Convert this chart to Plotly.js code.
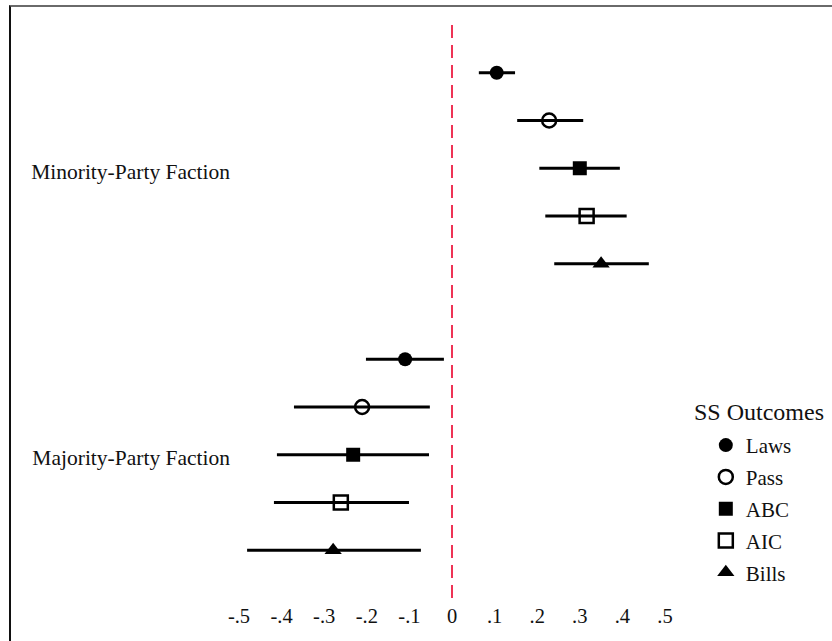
<!DOCTYPE html>
<html>
<head>
<meta charset="utf-8">
<script src="https://cdn.plot.ly/plotly-3.0.1.min.js"></script>
<style>
  html, body { margin: 0; padding: 0; background: #fff; }
  #wrap { position: relative; width: 832px; height: 641px; overflow: hidden; }
  #chart { width: 832px; height: 641px; }
  #frame { position: absolute; left: 9px; top: 5px; right: -10px; bottom: -10px;
           border-top: 2px solid #6a6a6a; border-left: 2px solid #111; pointer-events: none; }
</style>
</head>
<body>
<div id="wrap">
  <div id="chart"></div>
  <div id="frame"></div>
</div>
<script>
// ---- data ----
const outcomes = ["Laws", "Pass", "ABC", "AIC", "Bills"];
const symbols = ["circle", "circle-open", "square", "square-open", "triangle-up"];
const groupLabels = ["Minority-Party Faction", "Majority-Party Faction"];

const minorityEst = [0.105, 0.228, 0.300, 0.316, 0.350];
const minorityLo  = [0.063, 0.153, 0.205, 0.219, 0.240];
const minorityHi  = [0.148, 0.308, 0.394, 0.410, 0.462];

const majorityEst = [-0.110, -0.211, -0.232, -0.261, -0.279];
const majorityLo  = [-0.202, -0.371, -0.411, -0.418, -0.481];
const majorityHi  = [-0.019, -0.052, -0.054, -0.101, -0.073];

const xTickVals = [-0.5, -0.4, -0.3, -0.2, -0.1, 0, 0.1, 0.2, 0.3, 0.4, 0.5];
const xTickText = ["-.5", "-.4", "-.3", "-.2", "-.1", "0", ".1", ".2", ".3", ".4", ".5"];

// ---- build ----
const serif = "Liberation Serif, Times New Roman, serif";
const nOut = outcomes.length;
const traces = outcomes.map((name, i) => {
  const est = [minorityEst[i], majorityEst[i]];
  const lo = [minorityLo[i], majorityLo[i]];
  const hi = [minorityHi[i], majorityHi[i]];
  const open = symbols[i].indexOf("open") >= 0;
  return {
    type: "scatter",
    mode: "markers",
    name: name,
    legendgroup: name,
    x: est,
    y: [i, i + nOut + 1],
    marker: {
      symbol: symbols[i],
      size: symbols[i] === "triangle-up" ? 15 : 14,
      color: "#000",
      line: { color: "#000", width: open ? 2.5 : 0 }
    },
    error_x: {
      type: "data",
      symmetric: false,
      array: hi.map((h, k) => h - est[k]),
      arrayminus: est.map((e, k) => e - lo[k]),
      color: "#000",
      thickness: 3,
      width: 0
    }
  };
});

const layout = {
  width: 832,
  height: 641,
  margin: { l: 235, r: 152, t: 25, b: 43 },
  paper_bgcolor: "#fff",
  plot_bgcolor: "#fff",
  font: { family: serif, color: "#111", size: 20 },
  showlegend: true,
  xaxis: {
    range: [-0.5094, 0.5352],
    tickvals: xTickVals,
    ticktext: xTickText,
    showgrid: false,
    zeroline: false,
    showline: false,
    ticks: "",
    ticklabelstandoff: 3,
    tickfont: { family: serif, size: 20.5, color: "#111" }
  },
  yaxis: {
    range: [2 * nOut + 1, -1],
    tickvals: [(nOut - 1) / 2, nOut + 1 + (nOut - 1) / 2],
    ticktext: groupLabels,
    showgrid: false,
    zeroline: false,
    showline: false,
    ticks: "",
    ticklabelstandoff: 4,
    ticklabelshift: -3,
    tickfont: { family: serif, size: 21.5, color: "#111" }
  },
  shapes: [{
    type: "line", xref: "x", yref: "paper",
    x0: 0, x1: 0, y0: 0, y1: 1,
    line: { color: "#ee3355", width: 2, dash: "13px,7px" }
  }],
  legend: {
    x: 1.058, xanchor: "left",
    y: 0.302, yanchor: "top",
    font: { family: serif, size: 21, color: "#111" },
    tracegroupgap: 1.5,
    bgcolor: "rgba(0,0,0,0)",
    itemclick: false
  },
  annotations: [{
    text: "SS Outcomes",
    xref: "paper", yref: "paper",
    x: 1.027, xanchor: "left",
    y: 0.3246, yanchor: "middle",
    showarrow: false,
    font: { family: serif, size: 24, color: "#111" }
  }]
};

Plotly.newPlot("chart", traces, layout, { displayModeBar: false, staticPlot: true });
</script>
</body>
</html>
